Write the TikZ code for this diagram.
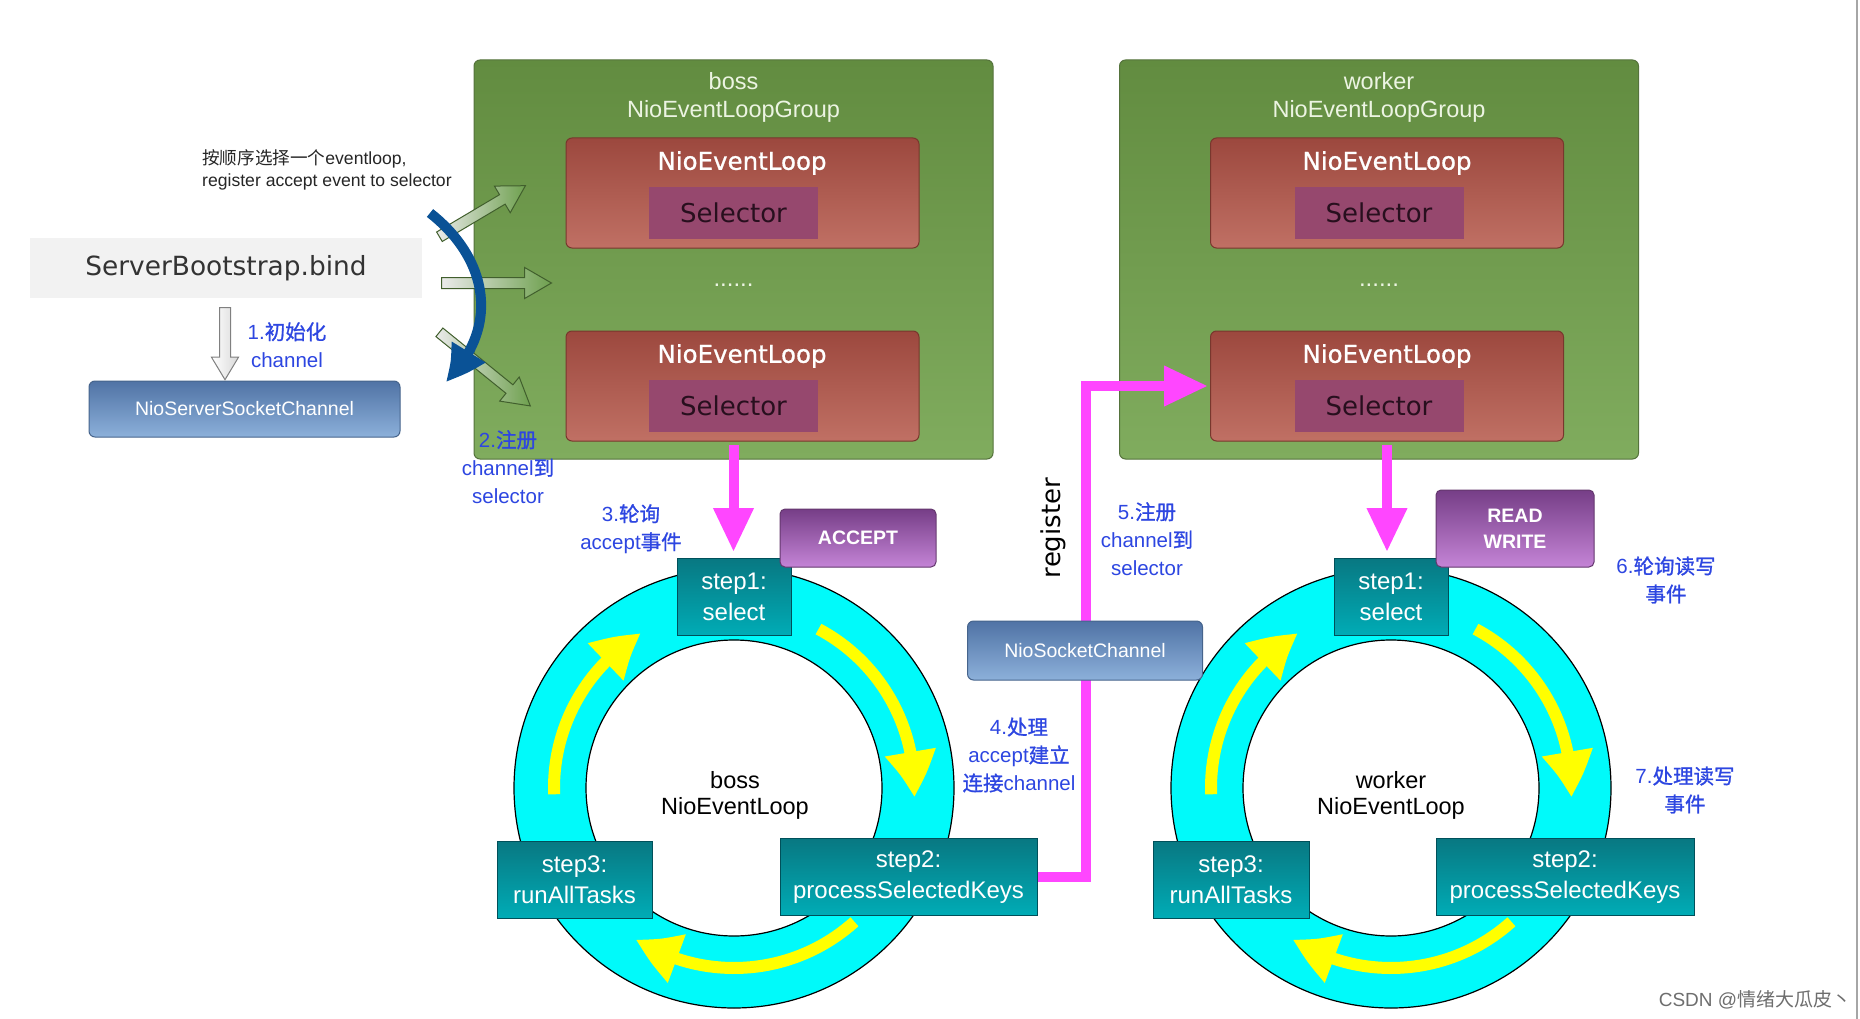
\documentclass[tikz,border=0pt]{standalone}
\usepackage{fontspec}
\setmainfont{Liberation Sans}
\newfontfamily\dvs{DejaVu Sans}
\newfontfamily\dvsheavy{DejaVu Sans}[FakeBold=0.8]
\newfontfamily\cjk{Noto Sans CJK SC}
\newfontfamily\cjkh{Noto Sans CJK SC}[FakeBold=1.0]
\usetikzlibrary{arrows.meta,bending,shapes.arrows,calc}

\definecolor{lblblue}{RGB}{45,70,225}
\definecolor{grpTop}{RGB}{98,140,64}
\definecolor{grpBot}{RGB}{128,172,94}
\definecolor{grpLine}{RGB}{85,115,60}
\definecolor{nelTop}{RGB}{156,72,62}
\definecolor{nelBot}{RGB}{192,112,100}
\definecolor{nelLine}{RGB}{120,55,45}
\definecolor{selFill}{RGB}{150,72,110}
\definecolor{selText}{RGB}{40,15,30}
\definecolor{stepTop}{RGB}{8,120,130}
\definecolor{stepBot}{RGB}{0,172,182}
\definecolor{stepLine}{RGB}{0,80,90}
\definecolor{evTop}{RGB}{118,62,135}
\definecolor{evBot}{RGB}{196,132,214}
\definecolor{evLine}{RGB}{100,55,110}
\definecolor{chTop}{RGB}{80,115,165}
\definecolor{chBot}{RGB}{140,176,218}
\definecolor{chLine}{RGB}{70,100,140}
\definecolor{ringC}{RGB}{0,250,250}
\definecolor{yel}{RGB}{255,255,0}
\definecolor{mag}{RGB}{255,70,255}
\definecolor{bigBlue}{RGB}{10,82,150}
\definecolor{gArrowLine}{RGB}{65,95,45}
\definecolor{gArrowFill}{RGB}{110,160,78}
\definecolor{sbGray}{RGB}{242,242,242}
\definecolor{titleGreen}{RGB}{236,244,226}
\definecolor{wmGray}{RGB}{110,110,110}

\begin{document}
\begin{tikzpicture}[x=1pt,y=-1pt,
  grp/.style={rounded corners=6pt, draw=grpLine, line width=1pt, top color=grpTop, bottom color=grpBot, minimum width=519pt, minimum height=399pt, inner sep=0pt},
  grptitle/.style={text=titleGreen, align=center, inner sep=0pt, font=\fontsize{23.5}{28}\selectfont},
  nel/.style={rounded corners=6pt, draw=nelLine, line width=1pt, top color=nelTop, bottom color=nelBot, minimum width=353pt, minimum height=110pt, inner sep=0pt},
  neltitle/.style={text=white, inner sep=0pt, font=\dvsheavy\fontsize{24.5}{28}\selectfont},
  sel/.style={fill=selFill, minimum width=169pt, minimum height=52pt, inner sep=0pt, text=selText, font=\dvs\fontsize{26}{30}\selectfont},
  dots/.style={text=titleGreen, inner sep=0pt, font=\fontsize{24}{28}\selectfont},
  stepbox/.style={draw=stepLine, line width=1pt, top color=stepTop, bottom color=stepBot, minimum height=77pt, inner sep=0pt, text=white, align=center, font=\fontsize{24}{31}\selectfont},
  evbox/.style={rounded corners=5pt, draw=evLine, line width=1pt, top color=evTop, bottom color=evBot, inner sep=0pt, text=white, align=center, font=\bfseries\fontsize{19.5}{26}\selectfont},
  chbox/.style={rounded corners=6pt, draw=chLine, line width=1pt, top color=chTop, bottom color=chBot, inner sep=0pt, text=white, font=\fontsize{19.5}{24}\selectfont},
  lbl/.style={text=lblblue, align=center, inner sep=0pt, font=\fontsize{20.5}{28}\selectfont},
  ctr/.style={align=center, inner sep=0pt, font=\fontsize{23.5}{26}\selectfont},
  magarrow/.style={draw=mag, line width=10pt, -{Triangle[width=38pt,length=44pt]}},
  yelarrow/.style={draw=yel, line width=12pt, -{Triangle[width=48pt,length=46pt,bend]}},
  ring/.style={fill=ringC, draw=black, line width=1.2pt, even odd rule},
  ghollow/.style={single arrow, draw=gArrowLine, line width=1pt, left color=black!8, right color=gArrowFill, inner sep=5pt, single arrow head extend=10pt, single arrow tip angle=60, anchor=tail},
  grayhollow/.style={single arrow, draw=black!50, line width=1pt, left color=white, right color=black!15, inner sep=5pt, single arrow head extend=8pt, single arrow tip angle=62, anchor=tail}
]
\useasboundingbox (0,0) rectangle (1860,1019);
\fill[white] (0,0) rectangle (1860,1019);
\draw[black!35, line width=1.5pt] (1857,0) -- (1857,1019);

% ---------- bootstrap side ----------
\node[fill=sbGray, minimum width=392pt, minimum height=60pt, inner sep=0pt, text=black!80, font=\dvs\fontsize{26.4}{30}\selectfont] (sb) at (226,268) {ServerBootstrap.bind};
\node[chbox, minimum width=311pt, minimum height=56pt] (nssc) at (244.5,409) {NioServerSocketChannel};
\node[grayhollow, minimum height=72pt, rotate=-90] (garr) at ($(sb.south)+(-1,9)$) {};
\node[lbl] (l1) at (287,345) {1.{\cjkh 初始化}\\channel};
\node[anchor=west, align=left, inner sep=0pt, text=black!85, font=\fontsize{17.6}{22}\selectfont] (hint) at (202,170) {{\cjk 按顺序选择一个}eventloop,\\register accept event to selector};

% ---------- boss group ----------
\node[grp] (bg) at (733.5,259.5) {};
\node[grptitle] (bgt) at (733.5,97) {boss\\NioEventLoopGroup};
\node[nel] (bn1) at (742.5,193) {};
\node[neltitle] (bn1t) at (742,163) {NioEventLoop};
\node[sel] (bs1) at (733.5,213) {Selector};
\node[dots] (bdots) at (733.5,285) {......};
\node[nel] (bn2) at (742.5,386) {};
\node[neltitle] (bn2t) at (742,356) {NioEventLoop};
\node[sel] (bs2) at (733.5,406) {Selector};

% ---------- worker group ----------
\node[grp] (wg) at (1379,259.5) {};
\node[grptitle] (wgt) at (1379,97) {worker\\NioEventLoopGroup};
\node[nel] (wn1) at (1387,193) {};
\node[neltitle] (wn1t) at (1387,163) {NioEventLoop};
\node[sel] (ws1) at (1379,213) {Selector};
\node[dots] (wdots) at (1379,285) {......};
\node[nel] (wn2) at (1387,386) {};
\node[neltitle] (wn2t) at (1387,356) {NioEventLoop};
\node[sel] (ws2) at (1379,406) {Selector};

% ---------- hollow green arrows + blue curved arrow ----------
\node[ghollow, minimum height=100pt, rotate=30.7] (ga1) at (439,237) {};
\node[ghollow, minimum height=110pt] (ga2) at (441,283) {};
\node[ghollow, minimum height=117pt, rotate=-39] (ga3) at (439,332) {};
\coordinate (bb1) at (430,213);
\coordinate (bb2) at (445,382);
\draw[bigBlue, line width=10pt, -{Triangle[width=36pt,length=40pt,bend]}] (bb1) .. controls (490,260) and (500,330) .. (bb2);

% ---------- boss ring ----------
\coordinate (bc) at (734,788);
\path[ring] (bc) circle[radius=220] (bc) circle[radius=148];
\draw[yelarrow] ([shift={(bc)}]-62:180) arc[start angle=-62, end angle=3, radius=180];
\draw[yelarrow] ([shift={(bc)}]48:180) arc[start angle=48, end angle=123, radius=180];
\draw[yelarrow] ([shift={(bc)}]-182:180) arc[start angle=-182, end angle=-121, radius=180];
\node[stepbox, minimum width=114pt] (bstep1) at (734,597) {step1:\\select};
\node[stepbox, minimum width=257pt] (bstep2) at (908.5,877) {step2:\\processSelectedKeys};
\node[stepbox, minimum width=155pt] (bstep3) at (574.5,879.5) {step3:\\runAllTasks};
\node[ctr] (bct) at (735,795) {boss\\NioEventLoop};
\node[evbox, minimum width=156pt, minimum height=58pt] (acc) at (858,538) {ACCEPT};
\draw[magarrow, shorten <=3pt, shorten >=6pt] (bs2.south |- bn2.south) -- (bs2.south |- bstep1.north);

% ---------- worker ring ----------
\coordinate (wc) at (1391,788);
\path[ring] (wc) circle[radius=220] (wc) circle[radius=148];
\draw[yelarrow] ([shift={(wc)}]-62:180) arc[start angle=-62, end angle=3, radius=180];
\draw[yelarrow] ([shift={(wc)}]48:180) arc[start angle=48, end angle=123, radius=180];
\draw[yelarrow] ([shift={(wc)}]-182:180) arc[start angle=-182, end angle=-121, radius=180];
\node[stepbox, minimum width=114pt] (wstep1) at (1391,597) {step1:\\select};
\node[stepbox, minimum width=258pt] (wstep2) at (1565,877) {step2:\\processSelectedKeys};
\node[stepbox, minimum width=156pt] (wstep3) at (1231,879.5) {step3:\\runAllTasks};
\node[ctr] (wct) at (1391,795) {worker\\NioEventLoop};
\node[evbox, minimum width=158pt, minimum height=77pt] (rw) at (1515,528.5) {READ\\WRITE};
\draw[magarrow, shorten <=3pt, shorten >=6pt] (wn2.south) -- (wn2.south |- wstep1.north);

% ---------- register path ----------
\draw[magarrow, shorten >=2pt] (bstep2.east) -- ++(48,0) |- (wn2.west);
\node[chbox, minimum width=235pt, minimum height=59pt] (nsc) at (1085,650.5) {NioSocketChannel};
\node[rotate=90, inner sep=0pt, font=\dvs\fontsize{26}{30}\selectfont] (reg) at (1053,528) {register};

% ---------- labels ----------
\node[lbl] (l2) at (508,467) {2.{\cjkh 注册}\\channel{\cjkh 到}\\selector};
\node[lbl] (l3) at (631,529) {3.{\cjkh 轮询}\\accept{\cjkh 事件}};
\node[lbl] (l4) at (1019,755) {4.{\cjkh 处理}\\accept{\cjkh 建立}\\{\cjkh 连接}channel};
\node[lbl] (l5) at (1147,539) {5.{\cjkh 注册}\\channel{\cjkh 到}\\selector};
\node[lbl] (l6) at (1666,580) {6.{\cjkh 轮询读写}\\{\cjkh 事件}};
\node[lbl] (l7) at (1685,790) {7.{\cjkh 处理读写}\\{\cjkh 事件}};
\node[inner sep=0pt, text=wmGray, font=\fontsize{19}{22}\selectfont] (wm) at (1755,1000) {CSDN @{\cjk 情绪大瓜皮丶}};
\end{tikzpicture}
\end{document}
